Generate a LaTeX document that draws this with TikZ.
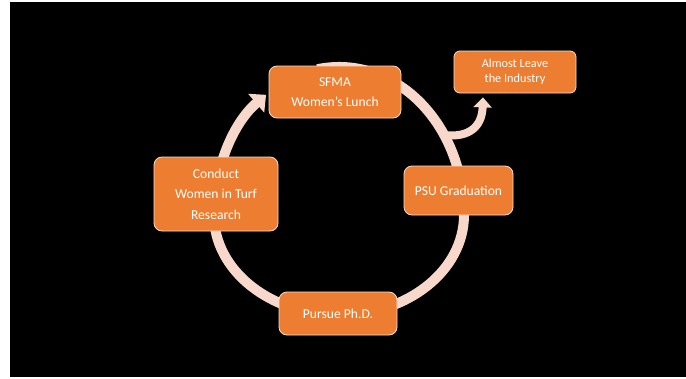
\documentclass[tikz,border=0pt]{standalone}
\usepackage{fontspec}
\setmainfont{Carlito}
\usetikzlibrary{arrows.meta,calc}
\definecolor{boxorange}{RGB}{237,125,49}
\definecolor{ringpeach}{RGB}{248,216,202}
\definecolor{boxedge}{RGB}{250,222,205}

\begin{document}
\begin{tikzpicture}[x=1pt,y=-1pt,
  stage/.style={draw=boxedge, line width=0.8pt, fill=boxorange, rounded corners=8pt,
    text=white, align=center, inner sep=0pt, font=\fontsize{13.6}{20.5}\selectfont},
  sidestage/.style={stage, rounded corners=6pt, font=\fontsize{12.3}{15}\selectfont},
  ring/.style={draw=ringpeach, line width=10pt},
  branch/.style={draw=ringpeach, line width=8pt},
  ringtip/.style={-{Triangle[width=24pt,length=13pt]}},
  branchtip/.style={-{Triangle[width=18pt,length=10pt]}},
]
\useasboundingbox (0,0) rectangle (686,378);
\fill[white] (0,0) rectangle (686,378);
\fill[black] (10,1.5) rectangle (686,376.5);

% centre of the cycle and the joints hidden under the boxes
\coordinate (hub) at (339,215);
\coordinate (j1) at ($(hub)+(-100:125 and 148)$);
\coordinate (j2) at ($(hub)+(-10:125 and 148)$);
\coordinate (j3) at ($(hub)+(90:125 and 100)$);
\coordinate (j4) at ($(hub)+(180:125 and 100)$);
\coordinate (fork) at ($(hub)+(-32.7:125 and 148)$);

% the cycle: taller upper half, flatter lower half
\draw[ring] (j1) arc[start angle=-100, end angle=-10, x radius=125, y radius=148];
\draw[ring] (j2) arc[start angle=-10, end angle=0, x radius=125, y radius=148]
                 arc[start angle=0, end angle=90, x radius=125, y radius=100];
\draw[ring] (j3) arc[start angle=90, end angle=180, x radius=125, y radius=100];
\draw[ring,ringtip] (j4) arc[start angle=180, end angle=234.3, x radius=125, y radius=148];

% stages
\node[stage, minimum width=132pt, minimum height=52pt] (sfma) at (335,92) {SFMA\\Women’s Lunch};
\node[stage, minimum width=109pt, minimum height=49pt] (psu) at (458.5,190.5) {PSU Graduation};
\node[stage, minimum width=118pt, minimum height=43pt] (phd) at (338,313.5) {Pursue Ph.D.};
\node[stage, minimum width=124pt, minimum height=74pt] (conduct) at (216,194) {Conduct\\Women in Turf\\Research};
\node[sidestage, minimum width=122pt, minimum height=42pt] (leave) at (515,72) {Almost Leave\\the Industry};

% branch off the cycle
\draw[branch,branchtip] (fork) .. controls (470,138) and (482,126) .. ([xshift=-32pt,yshift=-4pt]leave.south);
\end{tikzpicture}
\end{document}
